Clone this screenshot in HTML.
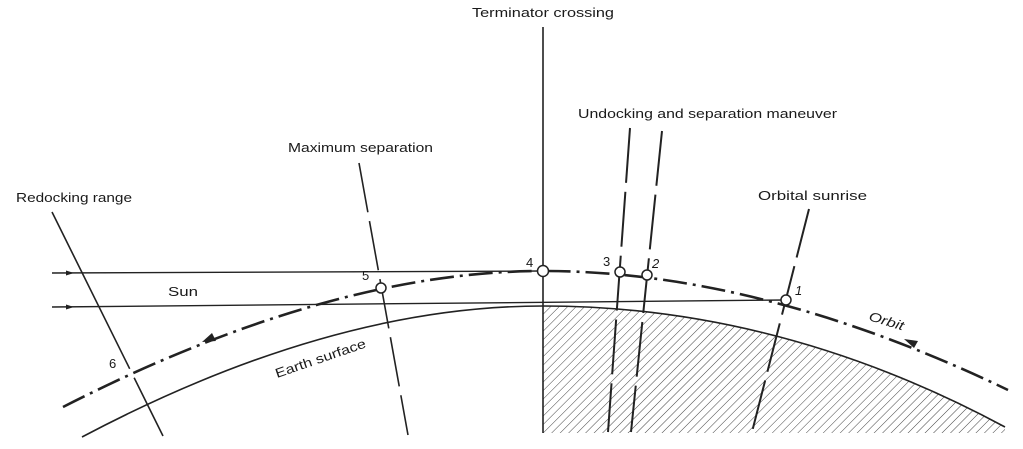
<!DOCTYPE html>
<html><head><meta charset="utf-8"><style>html,body{margin:0;padding:0;background:#fff}svg{display:block}text{font-family:"Liberation Sans",sans-serif;fill:#1a1a1a;font-size:13px}</style></head>
<body>
<svg width="1023" height="449" viewBox="0 0 1023 449" xmlns="http://www.w3.org/2000/svg">
<defs>
<clipPath id="hc"><path d="M543,306 Q780,306 1005,427 L1005,433 L543,433 Z"/></clipPath>
<pattern id="hp" width="6" height="6" patternUnits="userSpaceOnUse" patternTransform="rotate(45)">
<line x1="0" y1="0" x2="0" y2="6" stroke="#444" stroke-width="1"/></pattern>
</defs>
<rect x="543" y="300" width="470" height="135" fill="url(#hp)" clip-path="url(#hc)"/>
<g fill="none" stroke="#222">
<path d="M82,437 Q330,306 543,306 Q780,306 1005,427" stroke-width="1.6"/>
<line x1="52" y1="273" x2="543" y2="271" stroke-width="1.4"/>
<line x1="52" y1="307" x2="786" y2="300" stroke-width="1.4"/>
<path d="M63,407 Q330,271 543,271 Q760,271 1008,390" stroke-width="2.6" stroke-dasharray="24,6,3,6"/>
<line x1="543" y1="27" x2="543" y2="433" stroke-width="1.6"/>
<line x1="630" y1="128" x2="608" y2="432" stroke-width="2" stroke-dasharray="55,9"/>
<line x1="662" y1="131" x2="631" y2="432" stroke-width="2" stroke-dasharray="55,9"/>
<line x1="809" y1="209" x2="752" y2="432" stroke-width="2" stroke-dasharray="50,9"/>
<line x1="359" y1="163" x2="408" y2="435" stroke-width="1.6" stroke-dasharray="50,9"/>
<line x1="52" y1="212" x2="163" y2="436" stroke-width="1.6" stroke-dasharray="175,10"/>
</g>
<g fill="#222">
<polygon points="74,273 66,270.5 66,275.5"/>
<polygon points="74,307 66,304.5 66,309.5"/>
<polygon points="202,342 212,333 216,341"/>
<polygon points="904,339 914,348 918,341"/>
</g>
<g fill="#fff" stroke="#222" stroke-width="1.5">
<circle cx="543" cy="271" r="5.5"/>
<circle cx="620" cy="272" r="5"/>
<circle cx="647" cy="275" r="5"/>
<circle cx="786" cy="300" r="5"/>
<circle cx="381" cy="288" r="5"/>
</g>
<text x="472" y="17" textLength="142" lengthAdjust="spacingAndGlyphs">Terminator crossing</text>
<text x="578" y="118" textLength="259" lengthAdjust="spacingAndGlyphs">Undocking and separation maneuver</text>
<text x="288" y="152" textLength="145" lengthAdjust="spacingAndGlyphs">Maximum separation</text>
<text x="16" y="202" textLength="116" lengthAdjust="spacingAndGlyphs">Redocking range</text>
<text x="758" y="200" textLength="109" lengthAdjust="spacingAndGlyphs">Orbital sunrise</text>
<text x="168" y="296" textLength="30" lengthAdjust="spacingAndGlyphs">Sun</text>
<text x="0" y="0" transform="translate(277,378) rotate(-19)" textLength="95" lengthAdjust="spacingAndGlyphs">Earth surface</text>
<text x="0" y="0" transform="translate(868,320) rotate(17)" font-style="italic" textLength="36" lengthAdjust="spacingAndGlyphs">Orbit</text>
<text x="526" y="267" font-size="14">4</text>
<text x="603" y="266" font-size="14">3</text>
<text x="652" y="268" font-size="14" font-style="italic">2</text>
<text x="795" y="295" font-size="14" font-style="italic">1</text>
<text x="362" y="280" font-size="14">5</text>
<text x="109" y="368" font-size="14">6</text>
</svg>
</body></html>
